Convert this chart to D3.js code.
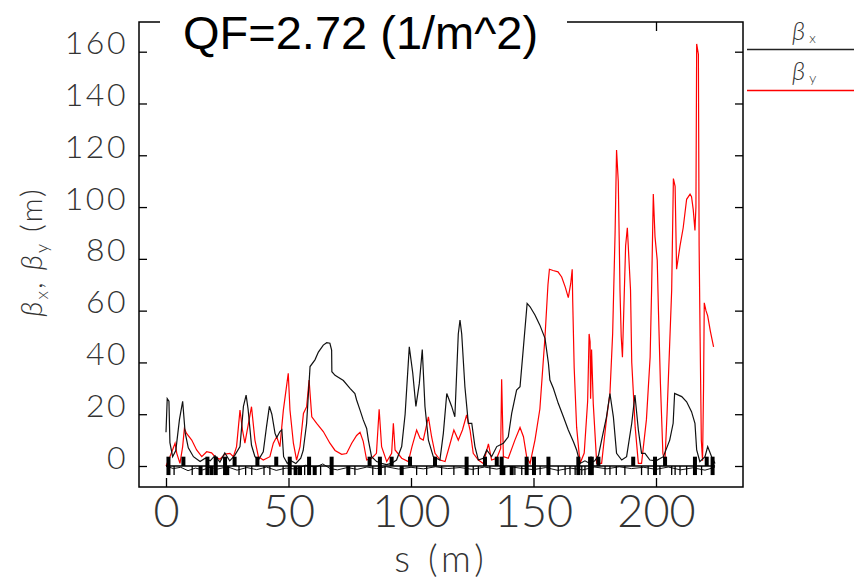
<!DOCTYPE html>
<html>
<head>
<meta charset="utf-8">
<script src="https://cdn.jsdelivr.net/npm/d3@7"></script>
<style>
  body { margin: 0; background: #fff; }
  svg text { fill: #333; }
</style>
</head>
<body>
<div id="chart"></div>
<script>
// beta functions along the line as [s (m), beta (m)]
const betaX = [[0,13],[0.5,26],[1.2,25],[1.6,9],[2.7,3.6],[4,6],[5.5,18],[6.8,25],[7.8,13],[9.1,7],[11.2,3.6],[13.9,1.7],[16,3],[18,2],[20,4],[22,1.5],[24,5],[26,2],[28,4],[30.2,7.5],[31.6,23],[32.7,27.4],[33.5,22],[34.9,8],[36.3,3.6],[37.7,2.3],[39.7,5.5],[41,15],[42.2,23],[43.2,20],[44.5,12.6],[45.2,11],[46.5,13.3],[47.3,14],[48,3.6],[49.5,1],[51,2],[53,1],[55,3],[56,6],[57.4,16.5],[58.8,38.4],[60.8,41],[62.2,44],[64.2,46.7],[65.6,47.6],[66.9,47.4],[67.6,44.8],[67.7,36.4],[69,35],[72.4,33],[75.1,30],[77.1,28],[77.8,25.5],[79.2,21.6],[80.5,17.8],[81.9,14.5],[82.6,10],[83.9,3.6],[86,1.7],[88,1],[90,0.5],[92,1],[94.1,2.3],[96.2,7.5],[97.6,20],[99.3,46],[100.7,36],[102,23],[103.4,31.9],[104.6,45],[105.7,23],[107.1,10],[109.1,3.6],[111.8,2.3],[113.2,12.6],[114.6,28],[116.6,23],[117.9,19],[119.3,51],[120,56.4],[120.7,51],[122,30.6],[123.4,16.5],[124.8,16.5],[126.1,7.5],[127.5,2.3],[129.5,3],[130.9,6.2],[132.9,3.6],[135,7.5],[137.7,8.8],[139.7,11.3],[141.1,20.3],[143.1,29.3],[144.5,30.6],[145.9,46],[147.4,62.8],[148.6,61.5],[150.6,58.3],[152.6,54.4],[154.7,49.3],[156.1,39.6],[156.7,33.2],[158.1,30],[160.1,24.2],[162.2,19],[164.2,13.9],[166.3,9.4],[167.6,6.2],[169,1],[171,2],[173,1],[175,2],[176.5,4],[177.8,10],[179.8,19],[181.2,28],[182.6,19],[183.9,4.9],[186,2.3],[188,3.6],[190.1,16.5],[191.4,27.4],[192.8,13.9],[194.1,4.9],[195.5,4.9],[197.5,2.3],[200,2],[203,3.6],[205.6,10],[207,16.5],[207.6,28],[210.5,26.8],[212.5,24.8],[214.5,21],[215.9,16.5],[216.6,6.2],[217.9,1.7],[220,3.6],[221.1,7.5],[222.7,3.6],[224.1,1]];

const betaY = [[0,0],[1.6,3.6],[3.7,8.8],[4.4,4.9],[5.7,1],[6.8,7.5],[7.5,14.5],[8.4,12.6],[10.5,10],[12.5,6.2],[14.6,3.6],[16.6,5.5],[18.6,5.1],[20,3.6],[22,2.6],[24.1,4.6],[26.1,4.9],[27.5,3.6],[28.8,7.5],[30.2,21.6],[31.2,14],[32.2,8.8],[34.9,22.9],[36.3,10],[37.7,3.6],[39.7,2.3],[42.4,3.6],[43.8,8.8],[45.2,11.3],[46.5,7.5],[47.9,21.6],[49.9,35.8],[50.6,21.6],[52,8.8],[53.3,2.3],[54.7,7.5],[56.1,20.3],[57.4,22.9],[58.4,33.2],[59.5,19],[61.5,16.5],[64.2,13.3],[66.9,8.8],[69,6],[71.7,4.5],[73.7,4.8],[75.8,8.8],[77.8,11.8],[79.2,13],[80.5,9.5],[81.9,2.3],[84,3],[85.9,4.9],[87,21.9],[88,7.5],[90.1,1.7],[92.1,4.9],[92.8,16.5],[93.5,6.2],[96.2,3],[98.9,1.7],[100.4,7.5],[102.3,13.9],[103.7,10.7],[105,10],[107.1,19],[108.4,11.3],[109.8,4.9],[111.9,2.3],[113.9,1.7],[116,8.8],[117.5,13.9],[119.3,10],[121,13.9],[122.7,19.7],[124.1,13.9],[125.4,4.9],[127.5,2.3],[129.5,1],[131.6,8.5],[132.9,2.3],[135,3],[136.6,6.8],[137,33.5],[137.7,3.6],[139.7,3],[142.4,10],[144.5,14.9],[145.9,11.3],[147.2,3.6],[148.6,1],[150.6,10],[152.6,22],[154.7,50],[155.9,70],[156.5,76],[158,75.5],[160,75],[161.5,73],[163,69],[164.2,65],[165.2,70.5],[165.8,76],[166,64],[166.6,38],[167.6,15],[169,1],[170.7,5],[172.1,25],[172.7,51],[173.1,48],[173.3,26],[173.7,45],[174.4,24],[175.8,1],[177.8,1],[179.9,19],[181.2,28],[182.3,51],[183.3,90],[183.9,122],[184.6,110],[185,87],[185.3,68],[185.8,50],[186.3,42],[187,65],[187.6,85],[188.3,92],[189.6,68],[190.1,40],[191.5,15],[192.8,1],[194.1,1],[196.1,18],[197.6,42],[198.2,68],[198.9,105],[199.6,88.5],[200.5,79.5],[201,60],[201.8,32],[202.8,5],[203.6,1],[204.5,20],[205.5,45],[206.4,68],[207.1,111],[207.8,108],[208.4,76],[209.8,85],[211.1,92],[212.5,103],[213.9,105],[214.5,104],[215.2,99],[215.9,91],[216.3,100],[216.6,163],[217.3,159],[217.6,85],[218,50],[218.5,10],[219,2],[219.4,30],[219.7,63],[220.4,60],[221.1,58],[222.2,52],[223.5,46]];

// small black trace wiggling around zero
const eta = [[0,0],[3,-1],[6,-0.5],[9,-1.8],[12,-0.8],[15,-1.5],[18,-0.5],[21,-1.2],[25,-0.3],[29,-1.6],[33,-0.6],[37,-1.4],[41,-0.4],[45,-1.7],[49,-0.8],[53,-1.2],[57,0.3],[61,-0.5],[64,0.8],[67,-1],[70,-1.5],[74,-0.6],[78,-1.3],[82,-0.4],[86,-1],[90,-0.3],[95,-1.2],[100,-0.5],[105,-1.1],[110,-0.3],[115,-1],[120,-0.6],[125,-1.3],[130,-0.4],[135,-1.2],[140,-0.2],[145,-0.9],[150,-1.4],[155,-0.6],[160,-1.7],[165,-0.8],[170,-1.5],[175,-0.4],[180,-1.1],[185,-0.3],[190,-1],[195,-0.5],[200,-1.3],[205,-0.4],[210,-1.5],[215,-0.7],[220,-1.6],[224,-0.5]];

// lattice: [s, kind]  F = above, D = below, Q = both, B = thin marker
const lattice = [[1,"Q"],[3.3,"B"],[7.1,"F"],[10.7,"B"],[14.1,"D"],[16.9,"Q"],[18.6,"D"],[20.3,"Q"],[24.1,"Q"],[25,"D"],[28,"F"],[29.8,"B"],[32.5,"B"],[35,"B"],[37.3,"F"],[40,"B"],[42.4,"B"],[45,"F"],[47.8,"B"],[50.5,"Q"],[52.9,"D"],[54.7,"D"],[56.6,"B"],[58.4,"Q"],[60.7,"D"],[63.1,"B"],[67.6,"Q"],[74.4,"D"],[77.1,"B"],[83.1,"F"],[84.4,"B"],[87.3,"Q"],[89.4,"B"],[92.1,"F"],[96.2,"D"],[99.6,"F"],[102.3,"B"],[106.4,"B"],[109.8,"F"],[112.5,"B"],[117.5,"B"],[122.7,"Q"],[125.4,"B"],[127.5,"B"],[130.2,"F"],[132.2,"B"],[135,"F"],[137,"Q"],[137.7,"D"],[141.1,"D"],[142.4,"B"],[145.2,"B"],[147.2,"Q"],[150.2,"Q"],[152.7,"B"],[156.1,"Q"],[160.1,"B"],[162.9,"B"],[164.9,"B"],[167,"B"],[168.3,"Q"],[169.7,"B"],[171,"B"],[173.1,"Q"],[173.8,"Q"],[176.5,"F"],[179.2,"B"],[181.2,"B"],[183.8,"B"],[187.3,"B"],[190.7,"F"],[194.1,"B"],[196.8,"B"],[199.6,"Q"],[201.6,"B"],[203.7,"F"],[206.4,"B"],[207.8,"B"],[209.8,"B"],[212.5,"B"],[215.9,"Q"],[218.6,"B"],[220.7,"F"],[223.1,"Q"]];

const xTicks = [0, 50, 100, 150, 200];
const yTicks = [0, 20, 40, 60, 80, 100, 120, 140, 160];

const W = 854, H = 585;
const frame = { left: 139, right: 743, top: 22, bottom: 487 };

const svg = d3.select("#chart").append("svg")
  .attr("width", W).attr("height", H)
  .style("display", "block");

const x = d3.scaleLinear().domain([0, 200]).range([166, 656]);
const y = d3.scaleLinear().domain([0, 160]).range([466, 51.7]);

svg.append("clipPath").attr("id", "plot")
  .append("rect")
  .attr("x", frame.left).attr("y", frame.top)
  .attr("width", frame.right - frame.left).attr("height", frame.bottom - frame.top);

const line = d3.line().x(d => x(d[0])).y(d => y(d[1]));
const plot = svg.append("g").attr("clip-path", "url(#plot)");

plot.append("path").datum(betaY)
  .attr("fill", "none").attr("stroke", "#ff0000").attr("stroke-width", 1.2)
  .attr("d", line);

plot.append("path").datum(betaX)
  .attr("fill", "none").attr("stroke", "#111").attr("stroke-width", 1.2)
  .attr("d", line);

plot.append("path").datum(eta)
  .attr("fill", "none").attr("stroke", "#111").attr("stroke-width", 1)
  .attr("d", line);

// lattice layout along y = 0
plot.append("line")
  .attr("x1", x(0)).attr("x2", x(224.1))
  .attr("y1", y(0)).attr("y2", y(0))
  .attr("stroke", "#000").attr("stroke-width", 1.5);

const up = 3.6, down = -3.5;
plot.selectAll("rect.el")
  .data(lattice.filter(d => d[1] !== "B"))
  .enter().append("rect")
  .attr("class", "el")
  .attr("x", d => x(d[0]) - 2)
  .attr("width", 4)
  .attr("y", d => d[1] === "D" ? y(0) : y(up))
  .attr("height", d => d[1] === "F" ? y(0) - y(up) : d[1] === "D" ? y(down) - y(0) : y(down) - y(up))
  .attr("fill", "#000");

plot.selectAll("line.el")
  .data(lattice.filter(d => d[1] === "B"))
  .enter().append("line")
  .attr("class", "el")
  .attr("x1", d => x(d[0])).attr("x2", d => x(d[0]))
  .attr("y1", y(0)).attr("y2", y(down))
  .attr("stroke", "#000").attr("stroke-width", 1.3);

// axes, ticks pointing inwards
const axisFont = "Lato, 'DejaVu Sans', sans-serif";

const gBottom = svg.append("g")
  .attr("transform", `translate(0,${frame.bottom})`)
  .call(d3.axisBottom(x).tickValues(xTicks).tickSize(-9).tickSizeOuter(0).tickPadding(8));
gBottom.select(".domain").remove();
gBottom.selectAll("line").attr("stroke", "#000").attr("stroke-width", 1.3);
gBottom.selectAll("text")
  .attr("font-family", axisFont).attr("font-weight", 300)
  .attr("font-size", 45).attr("fill", "#333")
  .attr("dy", "0.71em");

const gTop = svg.append("g")
  .attr("transform", `translate(0,${frame.top})`)
  .call(d3.axisTop(x).tickValues(xTicks).tickSize(-9).tickSizeOuter(0).tickFormat(""));
gTop.select(".domain").remove();
gTop.selectAll("line").attr("stroke", "#000").attr("stroke-width", 1.3);

const gLeft = svg.append("g")
  .attr("transform", `translate(${frame.left},0)`)
  .call(d3.axisLeft(y).tickValues(yTicks).tickSize(-8).tickSizeOuter(0).tickPadding(11));
gLeft.select(".domain").remove();
gLeft.selectAll("line").attr("stroke", "#000").attr("stroke-width", 1.3);
gLeft.selectAll("text")
  .attr("font-family", axisFont).attr("font-weight", 300)
  .attr("font-size", 32).attr("letter-spacing", 2.5).attr("fill", "#333")
  .attr("dy", 2);

const gRight = svg.append("g")
  .attr("transform", `translate(${frame.right},0)`)
  .call(d3.axisRight(y).tickValues(yTicks).tickSize(-8).tickSizeOuter(0).tickFormat(""));
gRight.select(".domain").remove();
gRight.selectAll("line").attr("stroke", "#000").attr("stroke-width", 1.3);

// frame
svg.append("rect")
  .attr("x", frame.left).attr("y", frame.top)
  .attr("width", frame.right - frame.left).attr("height", frame.bottom - frame.top)
  .attr("fill", "none").attr("stroke", "#000").attr("stroke-width", 1.5);

// title on a white patch over the top frame
svg.append("rect")
  .attr("x", 160).attr("y", 4).attr("width", 407).attr("height", 40)
  .attr("fill", "#fff");
svg.append("text")
  .attr("x", 183).attr("y", 49)
  .attr("font-family", "'Liberation Sans', Arial, sans-serif")
  .attr("font-size", 47)
  .style("fill", "#000")
  .text("QF=2.72 (1/m^2)");

// axis titles
svg.append("text")
  .attr("x", (frame.left + frame.right) / 2).attr("y", 572)
  .attr("text-anchor", "middle")
  .attr("font-family", axisFont).attr("font-weight", 300)
  .attr("font-size", 37).attr("letter-spacing", 4)
  .text("s (m)");

const yTitle = svg.append("text")
  .attr("transform", "translate(42,252) rotate(-90)")
  .attr("text-anchor", "middle")
  .attr("font-family", axisFont).attr("font-weight", 300)
  .attr("font-size", 30).attr("letter-spacing", 2);
yTitle.append("tspan").attr("font-style", "italic").text("β");
yTitle.append("tspan").attr("font-size", 18).attr("dy", 6).text("x");
yTitle.append("tspan").attr("dy", -6).text(", ");
yTitle.append("tspan").attr("font-style", "italic").text("β");
yTitle.append("tspan").attr("font-size", 18).attr("dy", 6).text("y");
yTitle.append("tspan").attr("dy", -6).text(" (m)");

// legend at the right edge
const legendItems = [
  { name: "x", color: "#222", textY: 40, lineY: 49.5 },
  { name: "y", color: "#ff0000", textY: 80, lineY: 90.5 }
];
const legend = svg.append("g");
legendItems.forEach(d => {
  const t = legend.append("text")
    .attr("x", 792).attr("y", d.textY)
    .attr("font-family", axisFont).attr("font-weight", 300)
    .attr("font-size", 26);
  t.append("tspan").attr("font-style", "italic").text("β");
  t.append("tspan").attr("font-size", 14).attr("dx", 4).attr("dy", 3).text(d.name);
  legend.append("line")
    .attr("x1", 747).attr("x2", W)
    .attr("y1", d.lineY).attr("y2", d.lineY)
    .attr("stroke", d.color).attr("stroke-width", 1.3);
});
</script>
</body>
</html>
